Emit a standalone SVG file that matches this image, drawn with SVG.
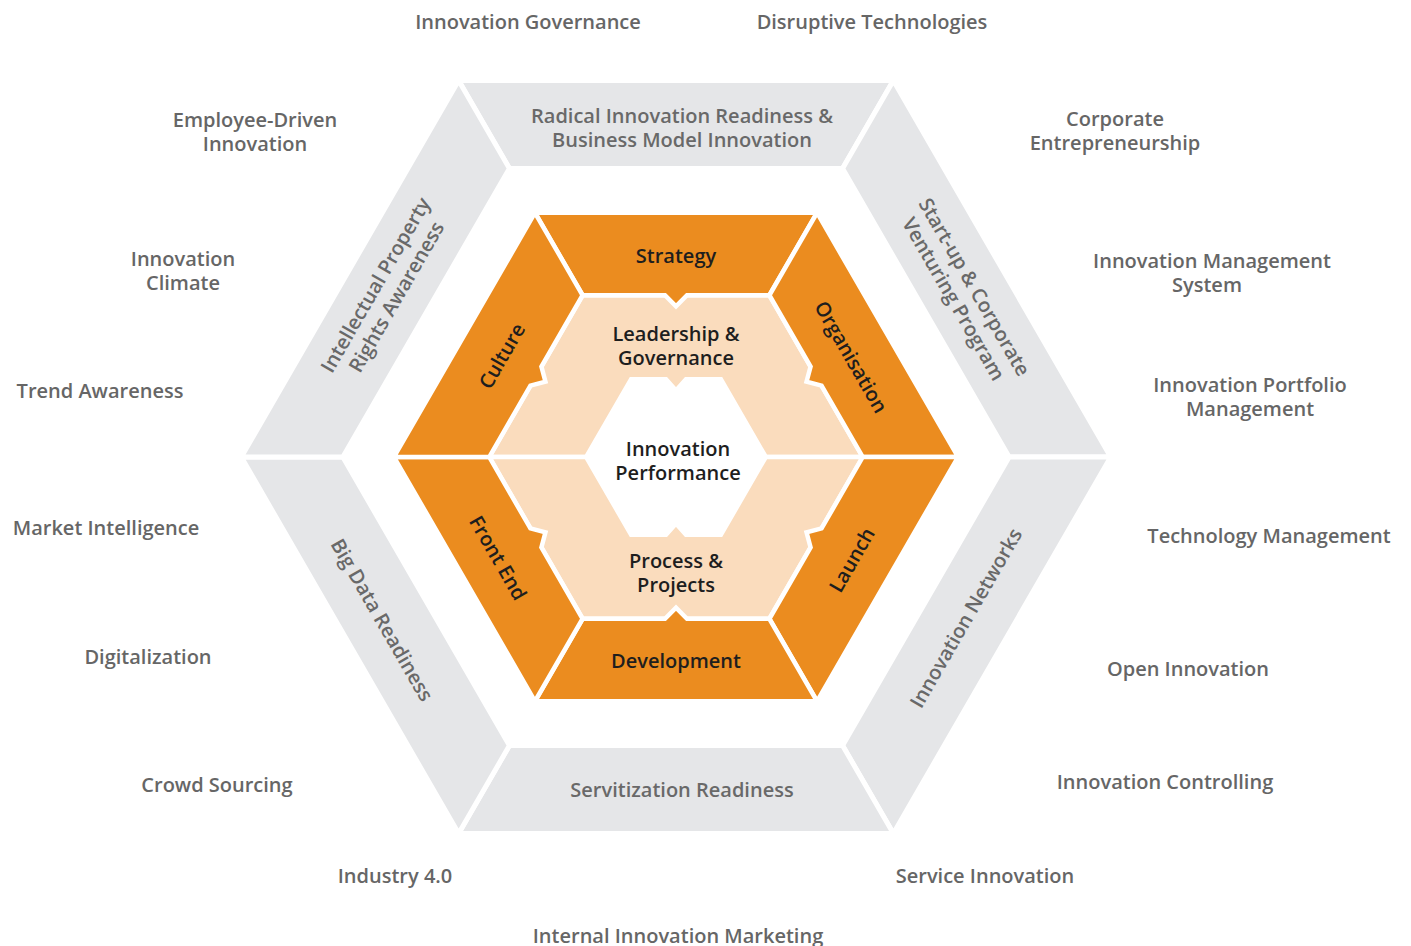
<svg xmlns="http://www.w3.org/2000/svg" width="1411" height="946" viewBox="0 0 1411 946">
<style>
.gray{fill:#e5e6e8;stroke:#fff;stroke-width:5;stroke-linejoin:miter}
.org{fill:#eb8c1f;stroke:#fff;stroke-width:4.5;stroke-linejoin:miter}
.peach{fill:#fadcbd;stroke:#fff;stroke-width:4.5;stroke-linejoin:miter}
text{font-family:"Open Sans","Noto Sans","Liberation Sans",sans-serif;font-size:20px;text-anchor:middle;font-weight:600}
.lbl{fill:#666666}
.seg{fill:#696969}
.dark{fill:#1e1e1e}
</style>
<rect width="1411" height="946" fill="#fff"/>

<g id="outer-ring">
<g id="g-top"><polygon class="gray" points="458.63,80.5 893.37,80.5 842.57,168.5 509.43,168.5"/>
<text class="seg" x="682"><tspan x="682" y="123">Radical Innovation Readiness &amp;</tspan><tspan x="682" y="147">Business Model Innovation</tspan></text></g>
<g id="g-upper-right"><polygon class="gray" points="893.37,80.5 1110.74,457 1009.13,457 842.57,168.5"/>
<text class="seg" transform="translate(964,293) rotate(60)"><tspan x="0" y="-5">Start-up &amp; Corporate</tspan><tspan x="0" y="19">Venturing Program</tspan></text></g>
<g id="g-lower-right"><polygon class="gray" points="1110.74,457 893.37,833.5 842.57,745.5 1009.13,457"/>
<text class="seg" transform="translate(966,618) rotate(-60)"><tspan x="0" y="7">Innovation Networks</tspan></text></g>
<g id="g-bottom"><polygon class="gray" points="893.37,833.5 458.63,833.5 509.43,745.5 842.57,745.5"/>
<text class="seg" x="682" y="797">Servitization Readiness</text></g>
<g id="g-lower-left"><polygon class="gray" points="458.63,833.5 241.26,457 342.87,457 509.43,745.5"/>
<text class="seg" transform="translate(382,620) rotate(60)"><tspan x="0" y="7">Big Data Readiness</tspan></text></g>
<g id="g-upper-left"><polygon class="gray" points="241.26,457 458.63,80.5 509.43,168.5 342.87,457"/>
<text class="seg" transform="translate(386,291) rotate(-60)"><tspan x="0" y="-5">Intellectual Property</tspan><tspan x="0" y="19">Rights Awareness</tspan></text></g>
</g>

<g id="inner-peach">
<g id="p-leadership"><polygon class="peach" points="489.23,457 582.62,295.25 769.38,295.25 862.77,457 765.78,457 720.89,379.25 686,379.25 676,390.5 666,379.25 631.11,379.25 586.22,457"/>
<text class="dark"><tspan x="676" y="341">Leadership &amp;</tspan><tspan x="676" y="365">Governance</tspan></text></g>
<g id="p-process"><polygon class="peach" points="489.23,457 582.62,618.75 769.38,618.75 862.77,457 765.78,457 720.89,534.75 686,534.75 676,523.5 666,534.75 631.11,534.75 586.22,457"/>
<text class="dark"><tspan x="676" y="568">Process &amp;</tspan><tspan x="676" y="592">Projects</tspan></text></g>
</g>

<g id="middle-ring">
<g id="o-strategy"><polygon class="org" points="534.98,212.75 817.02,212.75 769.38,295.25 687,295.25 676,306.25 665,295.25 582.62,295.25"/>
<text class="dark" x="676" y="263">Strategy</text></g>
<g id="o-organisation"><polygon class="org" points="817.02,212.75 958.03,457 862.77,457 821.58,385.65 806.55,381.63 810.58,366.6 769.38,295.25"/>
<text class="dark" transform="translate(851,357) rotate(60)" x="0" y="7">Organisation</text></g>
<g id="o-launch"><polygon class="org" points="958.03,457 817.02,701.25 769.38,618.75 810.58,547.4 806.55,532.38 821.58,528.35 862.77,457"/>
<text class="dark" transform="translate(852,560) rotate(-60)" x="0" y="7">Launch</text></g>
<g id="o-development"><polygon class="org" points="817.02,701.25 534.98,701.25 582.62,618.75 665,618.75 676,607.75 687,618.75 769.38,618.75"/>
<text class="dark" x="676" y="668">Development</text></g>
<g id="o-frontend"><polygon class="org" points="534.98,701.25 393.97,457 489.23,457 530.42,528.35 545.45,532.38 541.42,547.4 582.62,618.75"/>
<text class="dark" transform="translate(498,558) rotate(60)" x="0" y="7">Front End</text></g>
<g id="o-culture"><polygon class="org" points="393.97,457 534.98,212.75 582.62,295.25 541.42,366.6 545.45,381.63 530.42,385.65 489.23,457"/>
<text class="dark" transform="translate(502,356) rotate(-60)" x="0" y="7">Culture</text></g>
</g>

<g id="center">
<text class="dark"><tspan x="678" y="456">Innovation</tspan><tspan x="678" y="480">Performance</tspan></text>
</g>

<g id="outer-labels">
<text class="lbl" x="528" y="29">Innovation Governance</text>
<text class="lbl" x="872" y="29">Disruptive Technologies</text>
<text class="lbl"><tspan x="255" y="127">Employee-Driven</tspan><tspan x="255" y="151">Innovation</tspan></text>
<text class="lbl"><tspan x="1115" y="126">Corporate</tspan><tspan x="1115" y="150">Entrepreneurship</tspan></text>
<text class="lbl"><tspan x="183" y="266">Innovation</tspan><tspan x="183" y="290">Climate</tspan></text>
<text class="lbl"><tspan x="1212" y="268">Innovation Management</tspan><tspan x="1207" y="292">System</tspan></text>
<text class="lbl" x="100" y="398">Trend Awareness</text>
<text class="lbl"><tspan x="1250" y="392">Innovation Portfolio</tspan><tspan x="1250" y="416">Management</tspan></text>
<text class="lbl" x="106" y="535">Market Intelligence</text>
<text class="lbl" x="1269" y="543">Technology Management</text>
<text class="lbl" x="148" y="664">Digitalization</text>
<text class="lbl" x="1188" y="676">Open Innovation</text>
<text class="lbl" x="217" y="792">Crowd Sourcing</text>
<text class="lbl" x="1165" y="789">Innovation Controlling</text>
<text class="lbl" x="395" y="883">Industry 4.0</text>
<text class="lbl" x="985" y="883">Service Innovation</text>
<text class="lbl" x="678" y="943">Internal Innovation Marketing</text>
</g>
</svg>
